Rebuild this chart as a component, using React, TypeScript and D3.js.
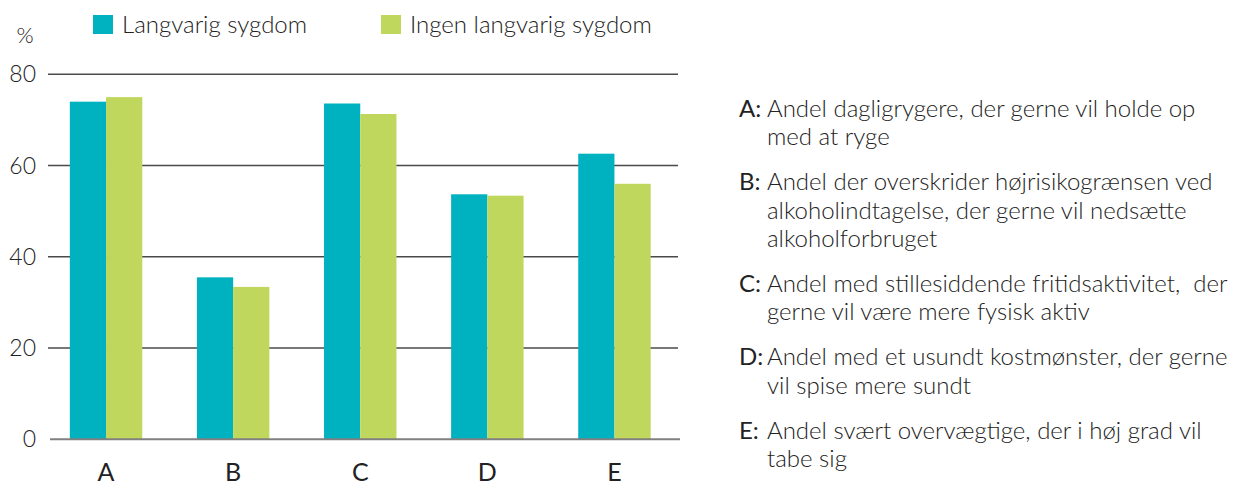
import React from "react";
import * as d3 from "d3";

const categories = ["A", "B", "C", "D", "E"];
const seriesNames = ["Langvarig sygdom", "Ingen langvarig sygdom"];
const langvarigValues = [74.0, 35.5, 73.6, 53.7, 62.6];
const ingenValues = [75.0, 33.4, 71.3, 53.4, 56.0];
const yTicks = [0, 20, 40, 60, 80];
const seriesColors = ["#00B2BF", "#C0D75D"];

const descA = ["Andel dagligrygere, der gerne vil holde op", "med at ryge"];
const descB = [
  "Andel der overskrider højrisikogrænsen ved",
  "alkoholindtagelse, der gerne vil nedsætte",
  "alkoholforbruget",
];
const descC = ["Andel med stillesiddende fritidsaktivitet,  der", "gerne vil være mere fysisk aktiv"];
const descD = ["Andel med et usundt kostmønster, der gerne", "vil spise mere sundt"];
const descE = ["Andel svært overvægtige, der i høj grad vil", "tabe sig"];
const descriptions = [descA, descB, descC, descD, descE];

const FONT = "Lato, 'Open Sans', sans-serif";
const TEXT = "#222";
const WEIGHT = 300;

export default function App() {
  const x0 = d3
    .scaleBand<string>()
    .domain(categories)
    .range([42.5, 678])
    .paddingInner(0.43)
    .paddingOuter(0.215);
  const x1 = d3
    .scaleBand<string>()
    .domain(seriesNames)
    .range([0, x0.bandwidth()]);
  const y = d3.scaleLinear().domain([0, 80]).range([439.3, 74.3]);

  const series = [langvarigValues, ingenValues];

  const lineH = 28.3;
  const groupGap = 45;
  let cursor = 117;
  const descLayout = descriptions.map((lines, i) => {
    const start = cursor;
    cursor += (lines.length - 1) * lineH + groupGap;
    return { key: categories[i], lines, start };
  });

  return (
    <svg
      width={1245}
      height={483}
      style={{ position: "absolute", left: 0, top: 0, background: "#fff" }}
      fontFamily={FONT}
      fontWeight={WEIGHT}
    >
      {/* legend */}
      {seriesNames.map((name, i) => {
        const lx = i === 0 ? 93 : 381;
        return (
          <g key={name}>
            <rect x={lx} y={15} width={20} height={19} fill={seriesColors[i]} />
            <text x={lx + 29} y={33} fontSize={24} fill={TEXT}>
              {name}
            </text>
          </g>
        );
      })}
      <text x={25} y={43} fontSize={22} fill={TEXT} textAnchor="middle">
        %
      </text>

      {/* gridlines */}
      {yTicks.map((t) =>
        t === 0 ? null : (
          <line
            key={t}
            x1={48}
            x2={678}
            y1={y(t)}
            y2={y(t)}
            stroke="#4a4a4a"
            strokeWidth={1.4}
          />
        )
      )}
      {yTicks.map((t) => (
        <text
          key={"l" + t}
          x={36}
          y={y(t) + 8}
          fontSize={23}
          fill={TEXT}
          textAnchor="end"
        >
          {t}
        </text>
      ))}

      {/* bars */}
      {categories.map((c, ci) => (
        <g key={c} transform={`translate(${x0(c)},0)`}>
          {seriesNames.map((s, si) => (
            <rect
              key={s}
              x={x1(s)}
              y={y(series[si][ci])}
              width={x1.bandwidth()}
              height={y(0) - y(series[si][ci])}
              fill={seriesColors[si]}
            />
          ))}
        </g>
      ))}

      {/* baseline */}
      <line x1={50} x2={680} y1={y(0)} y2={y(0)} stroke="#808080" strokeWidth={2} />

      {/* category labels */}
      {categories.map((c) => (
        <text
          key={"c" + c}
          x={(x0(c) as number) + x0.bandwidth() / 2}
          y={481}
          fontSize={25}
          fontWeight={400}
          fill={TEXT}
          textAnchor="middle"
        >
          {c}
        </text>
      ))}

      {/* descriptions */}
      {descLayout.map((d) => (
        <g key={"d" + d.key}>
          <text x={739} y={d.start} fontSize={24} fill={TEXT} fontWeight={400}>
            {d.key + ":"}
          </text>
          {d.lines.map((ln, li) => (
            <text
              key={li}
              x={767}
              y={d.start + li * lineH}
              fontSize={24}
              fill={TEXT}
              style={{ whiteSpace: "pre" }}
            >
              {ln}
            </text>
          ))}
        </g>
      ))}
    </svg>
  );
}
